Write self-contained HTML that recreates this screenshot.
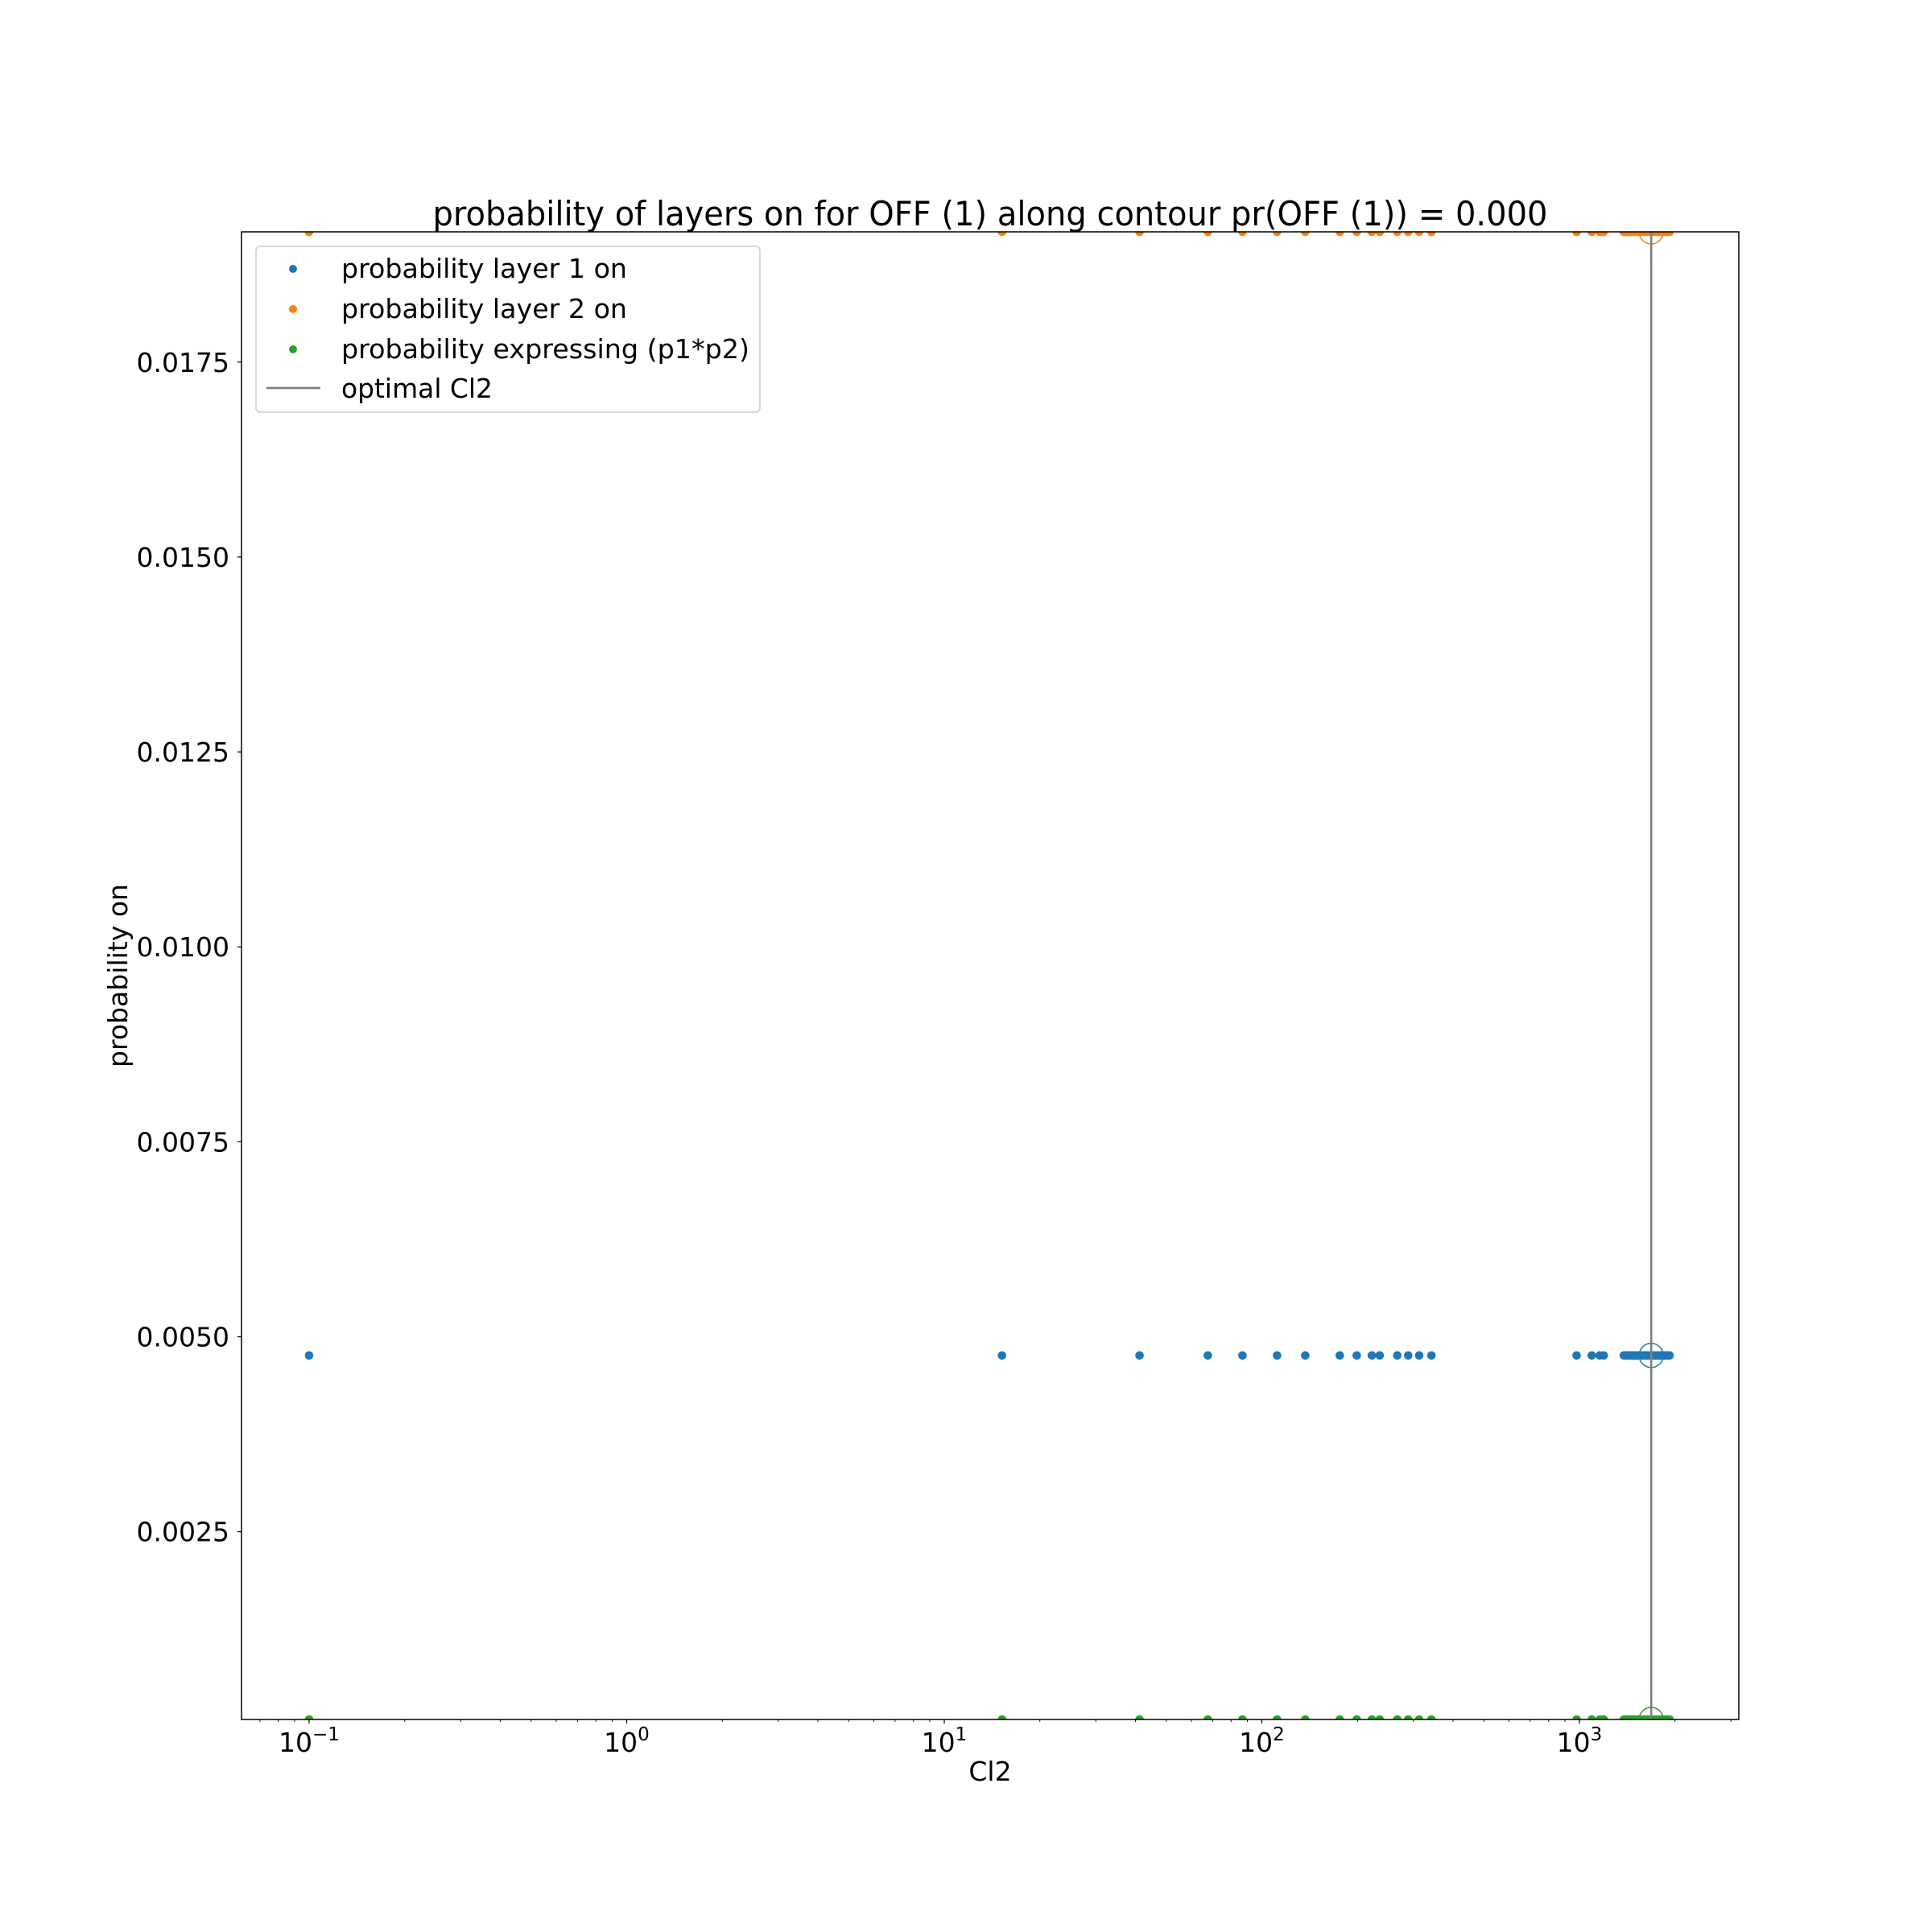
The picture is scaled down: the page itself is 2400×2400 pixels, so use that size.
<!DOCTYPE html>
<html><head><meta charset="utf-8"><style>
html,body{margin:0;padding:0;background:#fff;}
svg{display:block;font-family:"DejaVu Sans","Liberation Sans",sans-serif;}
</style></head><body>
<svg id="chart" width="2400" height="2400" viewBox="0 0 2400 2400" xmlns="http://www.w3.org/2000/svg">
<rect width="2400" height="2400" fill="#fff"/>
<defs><clipPath id="plotclip"><rect x="300" y="288" width="1860" height="1848"/></clipPath></defs>
<text x="1230" y="280" font-size="42" text-anchor="middle" textLength="1385" lengthAdjust="spacingAndGlyphs">probability of layers on for OFF (1) along contour pr(OFF (1)) = 0.000</text>
<g id="marks" clip-path="url(#plotclip)"></g>
<g id="axes"></g>
<rect x="300" y="288" width="1860" height="1848" fill="none" stroke="#000" stroke-width="1.5"/>
<text x="1230" y="2212" font-size="33" text-anchor="middle">Cl2</text>
<text transform="translate(158,1212) rotate(-90)" font-size="33" text-anchor="middle" textLength="228" lengthAdjust="spacingAndGlyphs">probability on</text>
<g>
<rect x="318" y="306" width="626" height="206" rx="5" fill="#fff" fill-opacity="0.8" stroke="#ccc" stroke-width="1.5"/>
<circle cx="364" cy="334" r="5" fill="#1f77b4"/>
<text x="424" y="345" font-size="33" textLength="355" lengthAdjust="spacingAndGlyphs">probability layer 1 on</text>
<circle cx="364" cy="384" r="5" fill="#ff7f0e"/>
<text x="424" y="395" font-size="33" textLength="355" lengthAdjust="spacingAndGlyphs">probability layer 2 on</text>
<circle cx="364" cy="434" r="5" fill="#2ca02c"/>
<text x="424" y="445" font-size="33" textLength="507" lengthAdjust="spacingAndGlyphs">probability expressing (p1*p2)</text>
<line x1="331" y1="482" x2="398" y2="482" stroke="#808080" stroke-width="2.7"/>
<text x="424" y="494" font-size="33" textLength="188" lengthAdjust="spacingAndGlyphs">optimal Cl2</text>
</g>
</svg>
<script>
const cl2Values = [0.1, 15.2, 41.2, 67.6, 86.9, 111.7, 137, 176, 199, 222, 235, 267, 289, 313, 342, 980, 1094, 1159, 1193, 1380, 1400, 1420, 1445, 1470, 1490, 1515, 1540, 1560, 1585, 1610, 1635, 1660, 1683, 1705, 1730, 1755, 1780, 1805, 1830, 1855, 1880, 1900, 1923];
const layer1Prob = 0.00476;
const layer2Prob = 0.01917;
const expressingProb = 0.0000913;
const optimalCl2 = 1683;
const yTickValues = [0.0025, 0.0050, 0.0075, 0.0100, 0.0125, 0.0150, 0.0175];
const yTickLabels = ["0.0025", "0.0050", "0.0075", "0.0100", "0.0125", "0.0150", "0.0175"];
const xMajorExps = [-1, 0, 1, 2, 3];

const NS = "http://www.w3.org/2000/svg";
const L = 300, R = 2160, T = 288, B = 2136;
const xLogMin = -1.2129, xLogMax = 3.5019;
const yMin = 0.0000913, yMax = 0.01917;
function xs(v) { return L + (Math.log10(v) - xLogMin) / (xLogMax - xLogMin) * (R - L); }
function ys(v) { return B - (v - yMin) / (yMax - yMin) * (B - T); }
function mk(tag, attrs, parent) {
  const el = document.createElementNS(NS, tag);
  for (const k in attrs) el.setAttribute(k, attrs[k]);
  parent.appendChild(el);
  return el;
}
const marks = document.getElementById("marks");
const axes = document.getElementById("axes");

const series = [[layer1Prob, "#1f77b4", "layer1"], [layer2Prob, "#ff7f0e", "layer2"], [expressingProb, "#2ca02c", "expressing"]];
series.forEach(s => {
  const g = mk("g", {}, marks);
  
  
  cl2Values.forEach(v => {
    const c = mk("circle", { cx: xs(v), cy: ys(s[0]), r: 5.3, fill: s[1] }, g);
    
    
  });
});
series.forEach(s => {
  const c = mk("circle", { cx: xs(optimalCl2), cy: ys(s[0]), r: 15, fill: "none", stroke: s[1], "stroke-width": 1.5 }, marks);
  
  
});
const ol = mk("line", { x1: xs(optimalCl2), x2: xs(optimalCl2), y1: ys(expressingProb), y2: ys(layer2Prob), stroke: "#808080", "stroke-width": 2.7 }, marks);



yTickValues.forEach((v, i) => {
  const y = ys(v);
  const t = mk("line", { x1: L - 5, x2: L, y1: y, y2: y, stroke: "#000", "stroke-width": 1.2 }, axes);
  
  
  const tx = mk("text", { x: 285, y: y + 12, "font-size": 33, "text-anchor": "end" }, axes);
  tx.textContent = yTickLabels[i];
  
  
});
for (let e = -2; e <= 3; e++) {
  for (let m = 1; m <= 9; m++) {
    const v = m * Math.pow(10, e);
    const lg = Math.log10(v);
    if (lg < xLogMin || lg > xLogMax) continue;
    const x = xs(v);
    const len = m === 1 ? 5 : 3;
    const t = mk("line", { x1: x, x2: x, y1: B, y2: B + len, stroke: "#000", "stroke-width": m === 1 ? 1.2 : 0.9 }, axes);
    
    
  }
}
xMajorExps.forEach(e => {
  const x = xs(Math.pow(10, e));
  const tx = mk("text", { x: x, y: 2176, "font-size": 33, "text-anchor": "middle" }, axes);
  tx.textContent = "10";
  const sup = mk("tspan", { dy: -14, "font-size": 23 }, tx);
  sup.textContent = e < 0 ? "\u2212" + (-e) : String(e);
  
  
});
</script>
</body></html>
